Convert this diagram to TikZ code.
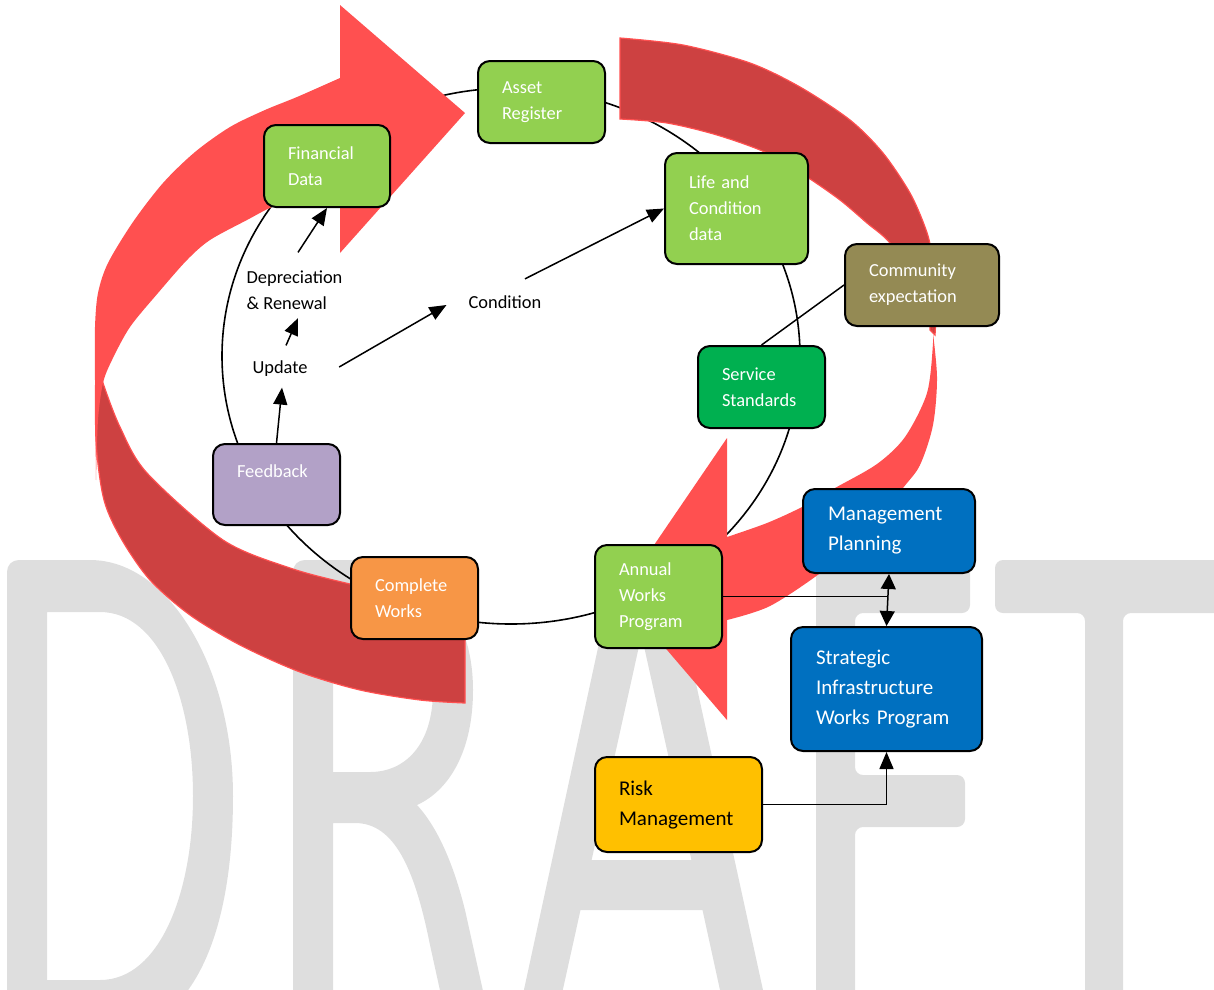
\documentclass[tikz,border=0pt]{standalone}
\usepackage{fontspec}
\setmainfont{Carlito}
\usetikzlibrary{arrows.meta,calc}
\definecolor{wm}{HTML}{DEDEDE}
\definecolor{redA}{HTML}{FF5050}
\definecolor{redB}{HTML}{CD4141}
\definecolor{lgreen}{HTML}{92D050}
\definecolor{sgreen}{HTML}{00B050}
\definecolor{olive}{HTML}{948A54}
\definecolor{lilac}{HTML}{B2A1C7}
\definecolor{orng}{HTML}{F79646}
\definecolor{blu}{HTML}{0070C0}
\definecolor{gold}{HTML}{FFC000}
\tikzset{
  bx/.style={draw=black, line width=2pt, rounded corners=12pt, anchor=north west,
    inner xsep=24pt, inner ysep=0pt, align=left, text=white,
    font=\fontsize{18.4}{26}\selectfont},
  bigbx/.style={bx, font=\fontsize{21}{30}\selectfont},
  lbl/.style={inner sep=0pt, align=left, font=\fontsize{18.4}{26}\selectfont},
  conn/.style={line width=1.5pt, black},
  cyc/.style={line width=1.6pt, black},
  arr/.style={conn, -{Triangle[length=17pt,width=14pt]}},
  darr/.style={conn, {Triangle[length=15pt,width=15pt]}-{Triangle[length=15pt,width=15pt]}},
  wmark/.style={fill=wm, draw=none},
  bandtop/.style={fill=redA, draw=none},
  bandback/.style={fill=redB, draw=redA, line width=1.2pt}
}
\begin{document}
\begin{tikzpicture}[x=1pt,y=-1pt]
\useasboundingbox (0,0) rectangle (1214,989);
\clip (0,0) rectangle (1214,989);
% ---------- DRAFT watermark ----------
% D
\fill[wmark, even odd rule]
  (7,1040) -- (7,572) .. controls (7,565) and (12,560) .. (19,560) -- (90,560)
  .. controls (170,560) and (233,670) .. (233,796)
  .. controls (233,922) and (200,1040) .. (90,1040) -- cycle
  (47,612) -- (100,612) .. controls (160,612) and (193,700) .. (193,796)
  .. controls (193,892) and (160,980) .. (100,980) -- (47,980) -- cycle;
% R
\fill[wmark, even odd rule]
  (293,1045) -- (293,572) .. controls (293,565) and (298,560) .. (305,560) -- (370,560)
  .. controls (425,560) and (473,610) .. (473,690)
  .. controls (473,750) and (450,790) .. (417,805)
  .. controls (440,830) and (455,870) .. (465,910) -- (495,1045) -- (452,1045) -- (430,945)
  .. controls (415,870) and (395,823) .. (355,823) -- (333,823) -- (333,1045) -- cycle
  (333,612) -- (370,612) .. controls (410,612) and (433,640) .. (433,690)
  .. controls (433,745) and (405,772) .. (370,772) -- (333,772) -- cycle;
% A
\fill[wmark, even odd rule]
  (512,1045) -- (617,560) -- (669,560) -- (775,1045) -- (732,1045) -- (702.5,910)
  -- (580.5,910) -- (550.6,1045) -- cycle
  (591.6,860) -- (641.5,635) -- (691.4,860) -- cycle;
% F
\fill[wmark, rounded corners=8pt] (816,1045) -- (816,560) -- (970,560) -- (970,613)
  -- (855,613) -- (855,775) -- (965,775) -- (965,827) -- (855,827) -- (855,1045) -- cycle;
% T
\fill[wmark, rounded corners=8pt] (995,560) -- (1240,560) -- (1240,613) -- (1123,613)
  -- (1123,1045) -- (1085,1045) -- (1085,613) -- (995,613) -- cycle;
% ---------- cycle ellipse ----------
\draw[cyc] (511,356) ellipse [x radius=289pt, y radius=268pt];
% ---------- left curved arrow ----------
\fill[bandback] plot[smooth] coordinates {(96,350) (96,440) (104,500) (122,540) (150,580)
  (190,615) (240,645) (300,672) (360,690) (420,700) (465,703)}
  -- (465,600) -- plot[smooth] coordinates {(465,600) (400,594) (350,584) (290,568)
  (223,540) (147,473) (120,427) (103,383) (97,360)} -- cycle;
\fill[bandtop] plot[smooth] coordinates {(96,480) (95,380) (95,327) (98,293) (108,263) (133,222)
  (163,183) (195,152) (230,127) (265,110) (297,97) (340,78)}
  -- (340,5) -- (465,113) -- (340,253) -- (340,190)
  -- plot[smooth] coordinates {(340,190) (300,198) (272,207) (247,220) (210,240) (187,260)
  (158,293) (130,327) (112,360) (103,383) (98,420) (96,480)} -- cycle;
% ---------- right curved arrow ----------
\fill[bandback] plot[smooth] coordinates {(620,38) (683,45) (750,63) (800,87) (850,120)
  (883,153) (910,193) (925,227) (931,250) (936,300) (935,335)}
  -- plot[smooth] coordinates {(930,330) (925,290) (890,243) (867,223) (840,200) (807,177)
  (767,153) (717,135) (667,123) (620,119)} -- cycle;
\fill[bandtop] plot[smooth] coordinates {(932,325) (937,377) (933,425) (920,465) (903,488)
  (870,530) (823,571) (770,606) (727,620)}
  -- (727,720) -- (620,595) -- (727,438) -- (727,537)
  -- plot[smooth] coordinates {(727,537) (767,523) (802,507) (835,488) (877,464)
  (905,437) (927,393) (933,343) (932,325)} -- cycle;
% ---------- boxes ----------
\node[bx, fill=lgreen, minimum width=127pt, minimum height=82pt, text width=79pt] (asset) at (477,60) {Asset\\Register};
\node[bx, fill=lgreen, minimum width=126pt, minimum height=82pt, text width=78pt] (fin) at (263,124) {Financial\\Data};
\node[bx, fill=lgreen, minimum width=143pt, minimum height=111pt, text width=95pt] (life) at (664,152) {Life and\\Condition\\data};
\node[bx, fill=olive, minimum width=154pt, minimum height=82pt, text width=106pt] (comm) at (844,243) {Community\\expectation};
\node[bx, fill=sgreen, minimum width=127pt, minimum height=82pt, text width=79pt] (serv) at (697,345) {Service\\Standards};
\node[bx, fill=lilac, minimum width=127pt, minimum height=81pt, text width=79pt] (fb) at (212,443) {Feedback\\\mbox{}};
\node[bx, fill=orng, minimum width=127pt, minimum height=82pt, text width=79pt] (comp) at (350,556) {Complete\\Works};
\node[bx, fill=lgreen, minimum width=127pt, minimum height=103pt, text width=79pt] (annual) at (594,544) {Annual\\Works\\Program};
\node[bigbx, fill=blu, minimum width=172pt, minimum height=84pt, text width=122pt, inner xsep=25pt] (mgmt) at (802,488) {Management\\Planning};
\node[bigbx, fill=blu, minimum width=191pt, minimum height=124pt, text width=141pt, inner xsep=25pt] (strat) at (790,626) {Strategic\\Infrastructure\\Works Program};
\node[bigbx, fill=gold, text=black, minimum width=167pt, minimum height=95pt, text width=119pt] (risk) at (594,756) {Risk\\Management};
% ---------- free labels ----------
\node[lbl] (dep) at (294.5,290) {Depreciation\\\& Renewal};
\node[lbl] (upd) at (280,369) {Update};
\node[lbl] (cond) at (505,302) {Condition};
% ---------- connectors ----------
\draw[arr] ($(dep.north)+(3.5,-18)$) -- (fin.south);
\draw[arr] ($(upd.north)+(6,-15.5)$) -- ($(dep.south)+(3.5,8.5)$);
\draw[arr] (fb.north) -- ($(upd.south)+(2,10.5)$);
\draw[arr] ($(upd.east)+(31.5,-2)$) -- ($(cond.west)+(-22,3)$);
\draw[arr] ($(cond.north)+(20,-16.5)$) -- (life.west);
\draw[conn] (comm.west) -- (serv.north);
\draw[conn] (annual.east) -- (annual.east -| strat.north);
\draw[darr] (mgmt.south) -- (strat.north);
\draw[arr] (risk.east) -| (strat.south);
\end{tikzpicture}
\end{document}
